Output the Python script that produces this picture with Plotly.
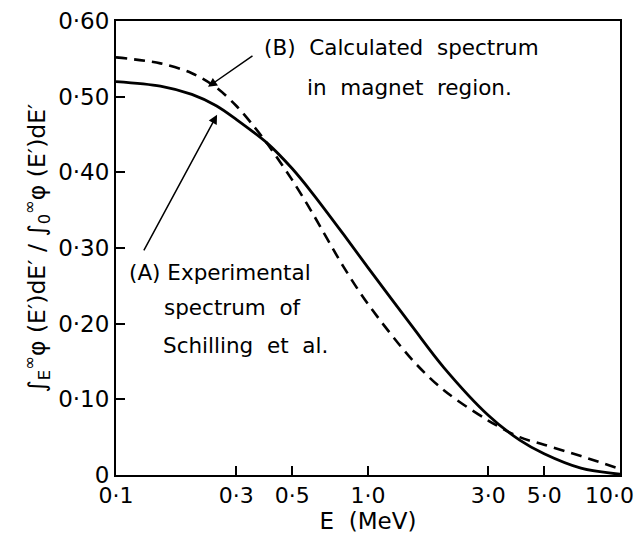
import plotly.graph_objects as go

# Data
energy_a = [0.1, 0.15, 0.2, 0.25, 0.3, 0.4, 0.5, 0.6, 0.8, 1.0, 1.5, 2.0, 3.0, 4.0, 5.0, 7.0, 10.0]
frac_a = [0.520, 0.514, 0.503, 0.488, 0.470, 0.438, 0.405, 0.373, 0.318, 0.274, 0.196, 0.142, 0.079, 0.046, 0.028, 0.009, 0.001]

energy_b = [0.1, 0.15, 0.2, 0.25, 0.3, 0.35, 0.4, 0.5, 0.6, 0.8, 1.0, 1.5, 2.0, 3.0, 4.0, 5.0, 7.0, 10.0]
frac_b = [0.552, 0.544, 0.531, 0.512, 0.488, 0.462, 0.437, 0.390, 0.347, 0.275, 0.226, 0.152, 0.112, 0.072, 0.050, 0.040, 0.025, 0.008]

x_tickvals = [0.1, 0.3, 0.5, 1.0, 3.0, 5.0, 10.0]
x_ticktext = ["0·1", "0·3", "0·5", "1·0", "3·0", "5·0", "10·0\u00a0\u00a0\u00a0"]
y_tickvals = [0, 0.1, 0.2, 0.3, 0.4, 0.5, 0.6]
y_ticktext = ["0", "0·10", "0·20", "0·30", "0·40", "0·50", "0·60"]

FONT = "DejaVu Sans"
W, H = 639, 544
L, R, T, B = 116, 19, 21, 69
pw, ph = W - L - R, H - T - B


def px(xp, yp):
    return (xp - L) / pw, (H - B - yp) / ph


fig = go.Figure()
fig.add_trace(go.Scatter(x=energy_b, y=frac_b, mode="lines",
                         line=dict(color="black", width=2.6, dash="11px,7px", shape="spline", smoothing=0.9),
                         showlegend=False))
fig.add_trace(go.Scatter(x=energy_a, y=frac_a, mode="lines",
                         line=dict(color="black", width=2.8, shape="spline", smoothing=0.9),
                         showlegend=False))

annotations = []
# arrows (head on the curve, tail near the text)
annotations.append(dict(x=-0.635, y=0.513, xref="x", yref="y", ax=46, ay=-32, showarrow=True,
                        arrowhead=2, arrowsize=1.2, arrowwidth=1.5, arrowcolor="black", text=""))
annotations.append(dict(x=-0.599, y=0.476, xref="x", yref="y", ax=-74, ay=137, showarrow=True,
                        arrowhead=2, arrowsize=1.2, arrowwidth=1.5, arrowcolor="black", text=""))

texts = [
    ("(B)  Calculated  spectrum", 262, 47),
    ("in  magnet  region.", 305, 87),
    ("(A) Experimental", 127, 272),
    ("spectrum  of", 162, 307),
    ("Schilling  et  al.", 161, 345),
]
for t, xp, yp in texts:
    xx, yy = px(xp, yp)
    annotations.append(dict(x=xx, y=yy, xref="paper", yref="paper", text=t, showarrow=False,
                            xanchor="left", yanchor="middle",
                            font=dict(family=FONT, size=21.5, color="black")))

fig.update_layout(
    width=W, height=H,
    margin=dict(l=L, r=R, t=T, b=B, autoexpand=False),
    paper_bgcolor="white", plot_bgcolor="white",
    annotations=annotations,
    font=dict(family=FONT, color="black"),
)
fig.update_xaxes(type="log", range=[-1, 1], tickvals=x_tickvals, ticktext=x_ticktext,
                 ticks="inside", ticklen=9, tickwidth=1.5, tickcolor="black",
                 showline=True, linecolor="black", linewidth=2, mirror=True,
                 showgrid=False, zeroline=False, tickfont=dict(size=22, family=FONT),
                 ticklabeloverflow="allow", automargin=False,
                 title=dict(text="E  (MeV)", font=dict(size=23, family=FONT), standoff=4))
fig.update_yaxes(range=[0, 0.6], tickvals=y_tickvals, ticktext=y_ticktext,
                 ticks="inside", ticklen=9, tickwidth=1.5, tickcolor="black",
                 showline=True, linecolor="black", linewidth=2, mirror=True,
                 showgrid=False, zeroline=False, tickfont=dict(size=23, family=FONT),
                 automargin=False,
                 title=dict(text="∫<sub>E</sub><sup>∞</sup>φ (E′)dE′ / ∫<sub>0</sub><sup>∞</sup>φ (E′)dE′",
                            font=dict(size=23.5, family=FONT), standoff=6))

fig.write_html("out.html")
